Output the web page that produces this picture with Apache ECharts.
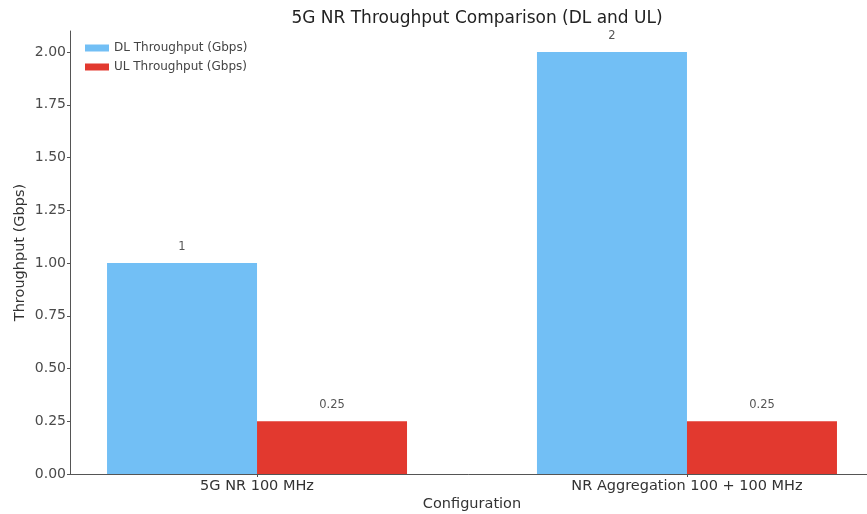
<!DOCTYPE html>
<html>
<head>
<meta charset="utf-8">
<script src="https://cdn.jsdelivr.net/npm/echarts@6/dist/echarts.min.js"></script>
<style>
  html, body { margin: 0; padding: 0; background: #ffffff; }
  #chart { width: 867px; height: 514px; }
</style>
</head>
<body>
<div id="chart"></div>
<script>
// Configurations compared and their throughput figures
const categories = ['5G NR 100 MHz', 'NR Aggregation 100 + 100 MHz'];
const dlThroughput = [1, 2];
const ulThroughput = [0.25, 0.25];
const yTicks = [0, 0.25, 0.5, 0.75, 1.0, 1.25, 1.5, 1.75, 2.0];

const FONT = 'DejaVu Sans';
const TEXT = '#333333';

// Bars sit on a numeric x axis so category positions 0 and 1 line up with the plot margins
const pairs = (vals) => vals.map((v, i) => [i, v]);

const chart = echarts.init(document.getElementById('chart'), null, { renderer: 'canvas' });

chart.setOption({
  backgroundColor: '#ffffff',
  animation: false,
  textStyle: { fontFamily: FONT },
  title: {
    text: '5G NR Throughput Comparison (DL and UL)',
    left: 472,
    textAlign: 'center',
    top: 5,
    textStyle: { fontFamily: FONT, fontSize: 17, fontWeight: 'normal', color: '#222222' }
  },
  legend: {
    left: 80,
    top: 37,
    orient: 'vertical',
    itemWidth: 24,
    itemHeight: 7,
    itemGap: 7,
    icon: 'rect',
    textStyle: { fontFamily: FONT, fontSize: 12, color: '#444444' },
    data: ['DL Throughput (Gbps)', 'UL Throughput (Gbps)']
  },
  grid: { left: 70, right: -7, top: 31, bottom: 40, outerBoundsMode: 'none', containLabel: false },
  xAxis: {
    type: 'value',
    min: -0.435,
    max: 1.435,
    name: 'Configuration',
    nameLocation: 'middle',
    nameGap: 23,
    nameMoveOverlap: false,
    nameTextStyle: { fontFamily: FONT, fontSize: 14.5, color: TEXT },
    axisLine: { show: true, onZero: false, lineStyle: { color: '#555555', width: 1 } },
    axisTick: { show: true, customValues: [0, 1], length: 3, lineStyle: { color: '#555555' } },
    axisLabel: {
      customValues: [0, 1],
      formatter: (v) => categories[Math.round(v)] || '',
      fontFamily: FONT, fontSize: 14.5, color: TEXT, margin: 5
    },
    splitLine: { show: false }
  },
  yAxis: {
    type: 'value',
    min: 0,
    max: 2.1,
    name: 'Throughput (Gbps)',
    nameLocation: 'middle',
    nameGap: 42,
    nameMoveOverlap: false,
    nameRotate: 90,
    nameTextStyle: { fontFamily: FONT, fontSize: 14.5, color: TEXT },
    axisLine: { show: true, onZero: false, lineStyle: { color: '#555555', width: 1 } },
    axisTick: { show: true, customValues: yTicks, length: 3, lineStyle: { color: '#555555' } },
    axisLabel: {
      customValues: yTicks,
      formatter: (v) => v.toFixed(2),
      fontFamily: FONT, fontSize: 14, color: '#4a4a4a', margin: 4
    },
    splitLine: { show: false }
  },
  series: [
    {
      name: 'DL Throughput (Gbps)',
      type: 'bar',
      data: pairs(dlThroughput),
      barWidth: 150,
      barGap: '0%',
      itemStyle: { color: '#72bff5' },
      label: {
        show: true, position: 'top', distance: 10,
        formatter: (p) => String(p.value[1]),
        fontFamily: FONT, fontSize: 11.5, color: '#555555'
      }
    },
    {
      name: 'UL Throughput (Gbps)',
      type: 'bar',
      data: pairs(ulThroughput),
      barWidth: 150,
      barGap: '0%',
      itemStyle: { color: '#e2392f' },
      label: {
        show: true, position: 'top', distance: 10,
        formatter: (p) => String(p.value[1]),
        fontFamily: FONT, fontSize: 11.5, color: '#555555'
      }
    }
  ]
});
</script>
</body>
</html>
